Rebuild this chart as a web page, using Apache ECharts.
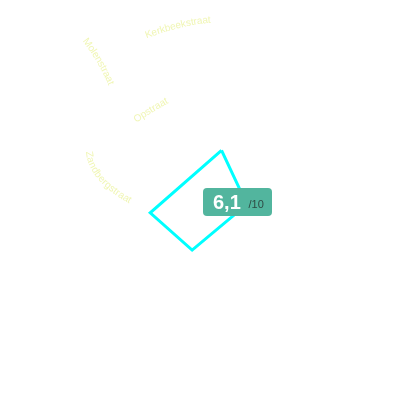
<!DOCTYPE html>
<html>
<head>
<meta charset="utf-8">
<script src="https://cdn.jsdelivr.net/npm/echarts@6/dist/echarts.min.js"></script>
<style>html,body{margin:0;padding:0;background:#fff}#c{width:400px;height:400px}</style>
</head>
<body>
<div id="c"></div>
<script>
// Street labels (curved text)
var streets = ['Kerkbeekstraat', 'Molenstraat', 'Opstraat', 'Zandbergstraat'];
// Shape outline in polar values: radius and angle (degrees, counter-clockwise from east)
var shapeRadius = [60, 42, 44, 55];
var shapeAngle = [74, 5, 253, 185];
// Score
var scoreValue = '6,1';
var scoreMax = '/10';

// label paths (start, middle, end points of text centre line)
var labelPaths = [
  [[145, 36], [180, 25], [211, 20]],
  [[83, 37], [100, 62], [112, 87]],
  [[134, 121], [151, 110], [168, 100]],
  [[89, 145], [99, 176], [136, 204]]
];

var chart = echarts.init(document.getElementById('c'));
var FONT = '10px "Liberation Sans", Arial, sans-serif';
var cv = document.createElement('canvas').getContext('2d');
cv.font = FONT;

function curvedText(text, pts) {
  var p0 = pts[0], p1 = pts[1], p2 = pts[2];
  var c = [2 * p1[0] - 0.5 * (p0[0] + p2[0]), 2 * p1[1] - 0.5 * (p0[1] + p2[1])];
  function at(t) {
    var u = 1 - t;
    return [u * u * p0[0] + 2 * u * t * c[0] + t * t * p2[0], u * u * p0[1] + 2 * u * t * c[1] + t * t * p2[1]];
  }
  var N = 400, samples = [], len = [0];
  for (var i = 0; i <= N; i++) samples.push(at(i / N));
  for (i = 1; i <= N; i++) {
    len.push(len[i - 1] + Math.hypot(samples[i][0] - samples[i - 1][0], samples[i][1] - samples[i - 1][1]));
  }
  var L = len[N];
  var widths = text.split('').map(function (ch) { return cv.measureText(ch).width; });
  var W = widths.reduce(function (a, b) { return a + b; }, 0);
  var s = L / 2 - W / 2;
  var els = [];
  for (var k = 0; k < text.length; k++) {
    var sm = s + widths[k] / 2;
    s += widths[k];
    var j = 0;
    while (j < N && len[j] < sm) j++;
    var a = samples[Math.max(0, j - 1)], b = samples[Math.min(N, j + 1)];
    var ang = Math.atan2(b[1] - a[1], b[0] - a[0]);
    var pt = samples[j];
    if (sm < 0) { pt = [p0[0] + Math.cos(ang) * sm, p0[1] + Math.sin(ang) * sm]; }
    els.push({
      type: 'text', x: pt[0], y: pt[1], rotation: -ang, silent: true,
      style: { text: text[k], font: FONT, fill: '#f0f6b4', align: 'center', verticalAlign: 'middle' }
    });
  }
  return els;
}

var graphics = [];
streets.forEach(function (name, i) { graphics = graphics.concat(curvedText(name, labelPaths[i])); });
graphics.push({
  type: 'group', x: 203, y: 188, z: 100,
  children: [
    { type: 'rect', z: 100, shape: { x: 0, y: 0, width: 69, height: 28, r: 4 }, style: { fill: '#52b59e' } },
    { type: 'text', z: 101, x: 10, y: 15, style: { text: scoreValue, font: 'bold 20px "Liberation Sans", Arial, sans-serif', fill: '#ffffff', verticalAlign: 'middle' } },
    { type: 'text', z: 101, x: 45.5, y: 16.5, style: { text: scoreMax, font: '11px "Liberation Sans", Arial, sans-serif', fill: '#2e4a44', verticalAlign: 'middle' } }
  ]
});

var shapeData = shapeRadius.map(function (r, i) { return [r, shapeAngle[i]]; });
shapeData.push(shapeData[0]);

chart.setOption({
  animation: false,
  backgroundColor: '#ffffff',
  polar: { center: [205, 208], radius: 100 },
  angleAxis: { type: 'value', min: 0, max: 360, startAngle: 0, clockwise: false, show: false },
  radiusAxis: { type: 'value', min: 0, max: 100, show: false },
  series: [{
    type: 'line', coordinateSystem: 'polar', data: shapeData, symbol: 'none', z: 2,
    lineStyle: { color: '#00ffff', width: 3, join: 'miter' }
  }],
  graphic: graphics
});
</script>
</body>
</html>
